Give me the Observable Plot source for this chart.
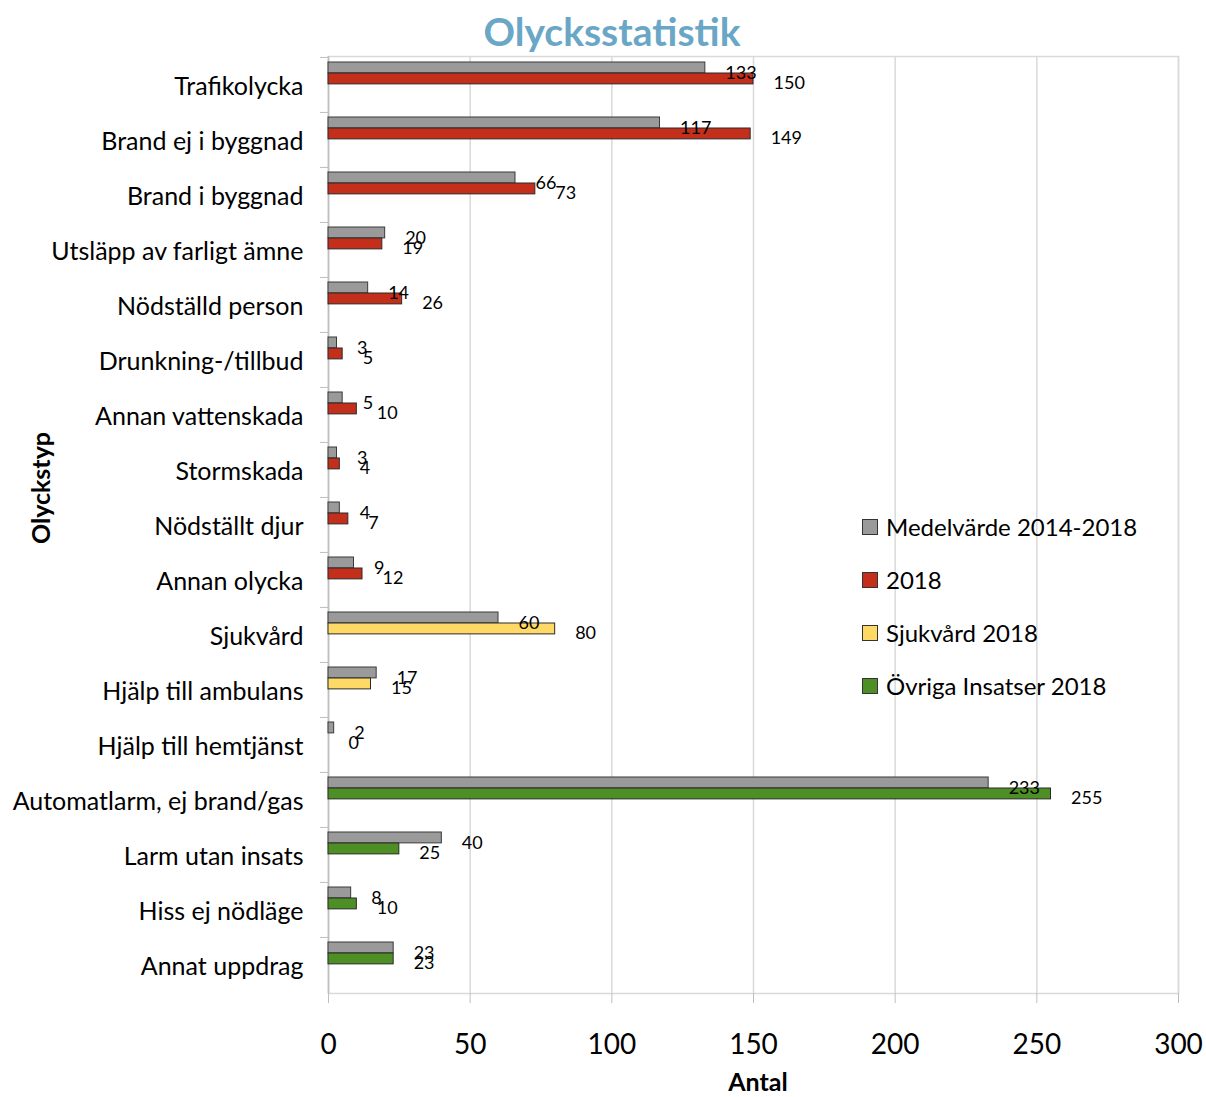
<!DOCTYPE html>
<html>
<head>
<meta charset="utf-8">
<script src="https://cdn.jsdelivr.net/npm/d3@7"></script>
<script src="https://cdn.jsdelivr.net/npm/@observablehq/plot@0.6"></script>
<style>
  html, body { margin: 0; padding: 0; background: #fff; }
  #wrap { position: relative; width: 1206px; height: 1097px; font-family: Lato, "Open Sans", sans-serif; overflow: hidden; }
  #title { position: absolute; left: 0; width: 1224px; top: 7px; text-align: center; font-weight: bold; font-size: 39px; color: #6aa6c6; line-height: 48px; }
  #xlabel { position: absolute; left: 658px; width: 200px; top: 1069px; text-align: center; font-weight: bold; font-size: 25px; line-height: 25px; color: #000; }
  #ylabel { position: absolute; left: 40px; top: 488px; transform: translate(-50%, -50%) rotate(-90deg); font-weight: bold; font-size: 25px; white-space: nowrap; color: #000; }
  #legend { position: absolute; left: 862px; top: 0; }
  .li { position: absolute; left: 0; white-space: nowrap; font-size: 24px; line-height: 30px; display: flex; align-items: center; }
  .sw { width: 14px; height: 14px; border: 1px solid #333; margin-right: 8px; }
</style>
</head>
<body>
<div id="wrap">
  <div id="chart"></div>
  <div id="title">Olycksstatistik</div>
  <div id="xlabel">Antal</div>
  <div id="ylabel">Olyckstyp</div>
  <div id="legend"></div>
</div>
<script>
const categories = [
  "Trafikolycka", "Brand ej i byggnad", "Brand i byggnad", "Utsläpp av farligt ämne",
  "Nödställd person", "Drunkning-/tillbud", "Annan vattenskada", "Stormskada",
  "Nödställt djur", "Annan olycka", "Sjukvård", "Hjälp till ambulans",
  "Hjälp till hemtjänst", "Automatlarm, ej brand/gas", "Larm utan insats",
  "Hiss ej nödläge", "Annat uppdrag"
];
const medelvarde = [133, 117, 66, 20, 14, 3, 5, 3, 4, 9, 60, 17, 2, 233, 40, 8, 23];
const values2018 = [150, 149, 73, 19, 26, 5, 10, 4, 7, 12, 80, 15, 0, 255, 25, 10, 23];
const seriesOf2018 = [
  "2018", "2018", "2018", "2018", "2018", "2018", "2018", "2018", "2018", "2018",
  "Sjukvård 2018", "Sjukvård 2018", "Sjukvård 2018",
  "Övriga Insatser 2018", "Övriga Insatser 2018", "Övriga Insatser 2018", "Övriga Insatser 2018"
];
const seriesNames = ["Medelvärde 2014-2018", "2018", "Sjukvård 2018", "Övriga Insatser 2018"];
const seriesColors = ["#9a9a9a", "#c32f1a", "#ffd966", "#4e8f25"];
const xTicks = [0, 50, 100, 150, 200, 250, 300];

const avgRows = categories.map((c, i) => ({cat: c, value: medelvarde[i], series: seriesNames[0]}));
const curRows = categories.map((c, i) => ({cat: c, value: values2018[i], series: seriesOf2018[i]}));

const W = 1206, H = 1097;
const mt = 56, mb = 104, ml = 328, mr = 28;
const bw = (H - mt - mb) / categories.length;

const plot = Plot.plot({
  width: W,
  height: H,
  marginTop: mt,
  marginBottom: mb,
  marginLeft: ml,
  marginRight: mr,
  style: {fontFamily: "Lato, 'Open Sans', sans-serif", background: "#fff", color: "#000"},
  x: {domain: [0, 300], ticks: xTicks},
  y: {domain: categories, padding: 0},
  color: {domain: seriesNames, range: seriesColors},
  marks: [
    Plot.gridX(xTicks, {stroke: "#d9d9d9", strokeOpacity: 1, strokeWidth: 1.5}),
    Plot.frame({stroke: "#d9d9d9", strokeWidth: 1.5}),
    Plot.axisX({ticks: xTicks, tickSize: 10, tickPadding: 31, fontSize: 28, stroke: "#bfbfbf", label: null, tickFormat: d => String(d)}),
    Plot.axisY({tickSize: 8, stroke: "#bfbfbf", tickFormat: () => "", dy: -bw / 2, label: null}),
    Plot.axisY({tickSize: 0, tickPadding: 25, fontSize: 25, dy: 2, label: null}),
    Plot.ruleX([0], {stroke: "#bfbfbf", strokeWidth: 1.5}),
    Plot.barX(avgRows, {x: "value", y: "cat", fill: "series", stroke: "#3a3a3a", strokeWidth: 1, insetTop: 5, insetBottom: bw - 16}),
    Plot.barX(curRows, {x: "value", y: "cat", fill: "series", stroke: "#2a2a2a", strokeWidth: 1, insetTop: 16, insetBottom: bw - 27}),
    Plot.text(avgRows, {x: "value", y: "cat", text: d => String(d.value), dx: 20, dy: -11.5, textAnchor: "start", fontSize: 18, fill: "#000"}),
    Plot.text(curRows, {x: "value", y: "cat", text: d => String(d.value), dx: 20, dy: -1.5, textAnchor: "start", fontSize: 18, fill: "#000"})
  ]
});
document.getElementById("chart").appendChild(plot);

const legendTops = [527, 580, 633, 686];
const lg = document.getElementById("legend");
seriesNames.forEach((name, i) => {
  const row = document.createElement("div");
  row.className = "li";
  row.style.top = (legendTops[i] - 15) + "px";
  const sw = document.createElement("div");
  sw.className = "sw";
  sw.style.background = seriesColors[i];
  const t = document.createElement("span");
  t.textContent = name;
  row.appendChild(sw);
  row.appendChild(t);
  lg.appendChild(row);
});
</script>
</body>
</html>
